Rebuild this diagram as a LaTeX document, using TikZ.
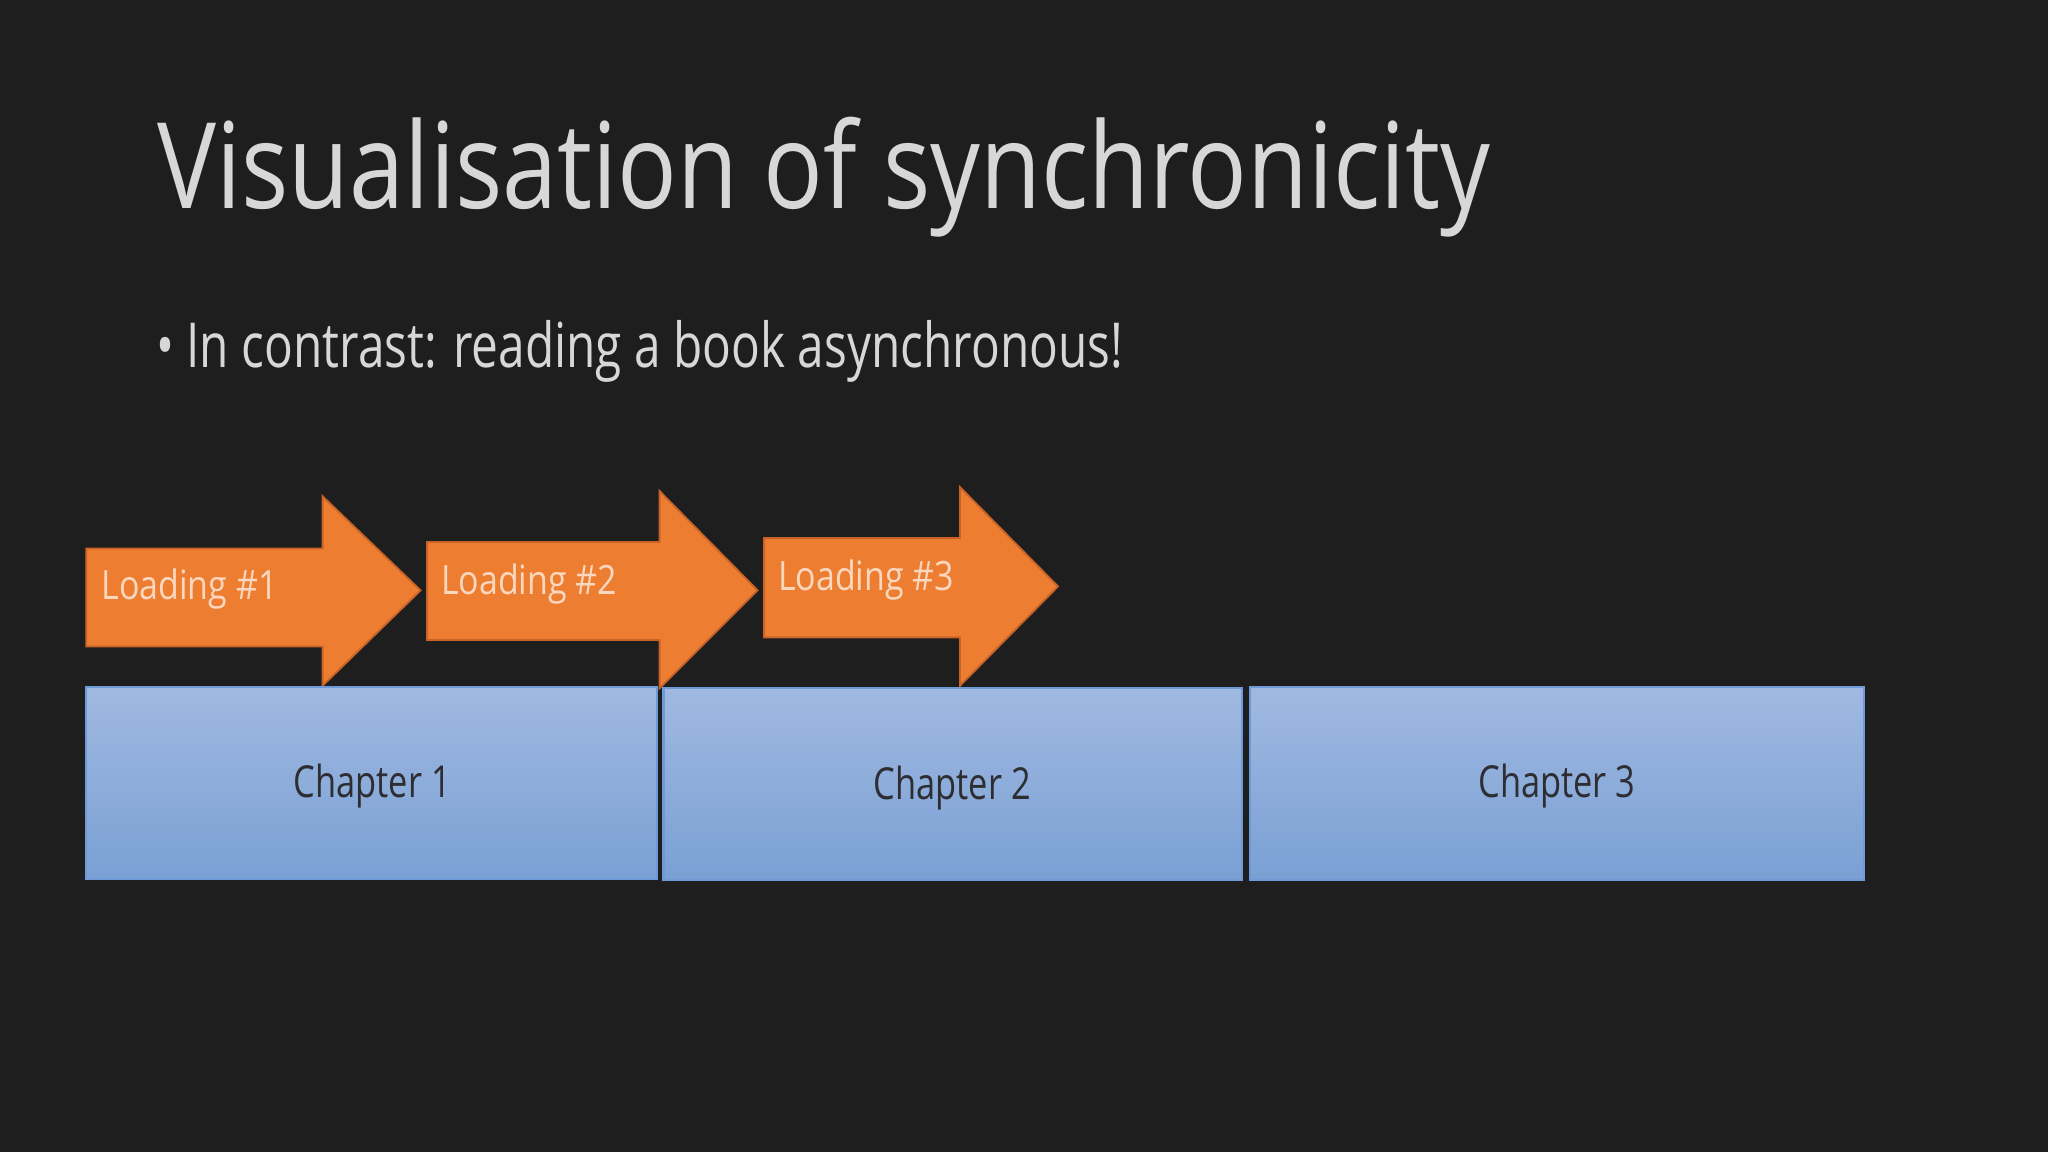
\documentclass[tikz,border=0pt]{standalone}
\usepackage{fontspec}
\setmainfont{Open Sans}
\newfontfamily\titlefont[FakeStretch=0.83]{Open Sans}
\newfontfamily\bulletfont[FakeStretch=0.77]{Open Sans}
\newfontfamily\lblfont[FakeStretch=0.84]{Open Sans}
\newfontfamily\chapfont[FakeStretch=0.78]{Open Sans}
\begin{document}
\begin{tikzpicture}[x=0.01cm,y=-0.01cm,
  arr/.style={fill=orange1,draw=orange2,line width=0.4pt},
  lbl/.style={anchor=west,text=orangetxt,font=\lblfont\fontsize{8.8}{10}\selectfont,inner sep=0},
  chap/.style={draw=chapb,line width=0.5pt,top color=chapt,bottom color=chapbot},
  ctxt/.style={text=chaptext,font=\chapfont\fontsize{9.6}{12}\selectfont}]
\definecolor{bg}{RGB}{30,30,31}
\definecolor{orange1}{RGB}{237,125,49}
\definecolor{orange2}{RGB}{200,100,40}
\definecolor{orangetxt}{RGB}{250,215,190}
\definecolor{chapb}{RGB}{110,155,215}
\definecolor{chapt}{RGB}{160,185,225}
\definecolor{chapbot}{RGB}{122,160,212}
\definecolor{chaptext}{RGB}{45,45,50}
\definecolor{fg}{RGB}{215,215,215}
\fill[bg] (0,0) rectangle (1568,882);
\useasboundingbox (0,0) rectangle (1568,882);
\node[anchor=base west,inner sep=0,text=fg,font=\titlefont\fontsize{26}{30}\selectfont] (title) at (120,160) {Visualisation of synchronicity};
\node[anchor=base west,inner sep=0,text=fg,font=\bulletfont\fontsize{13.5}{16}\selectfont] (bullet) at (119,281) {\textbullet\ In contrast: reading a book asynchronous!};
% arrows
\draw[arr] (66,420) -- (247,420) -- (247,380) -- (322,452) -- (247,525) -- (247,495) -- (66,495) -- cycle;
\draw[arr] (327,415) -- (505,415) -- (505,376) -- (580,452) -- (505,527) -- (505,490) -- (327,490) -- cycle;
\draw[arr] (585,412) -- (735,412) -- (735,373) -- (810,449) -- (735,525) -- (735,488) -- (585,488) -- cycle;
\node[lbl] (l1) at (77,451) {Loading \#1};
\node[lbl] (l2) at (337,447) {Loading \#2};
\node[lbl] (l3) at (595,444) {Loading \#3};
% chapters
\draw[chap] (66,526) rectangle (503,673);
\draw[chap] (508,527) rectangle (951,674);
\draw[chap] (957,526) rectangle (1427,674);
\node[ctxt] (c1) at (285,602) {Chapter 1};
\node[ctxt] (c2) at (729,603) {Chapter 2};
\node[ctxt] (c3) at (1192,602) {Chapter 3};
\end{tikzpicture}
\end{document}
